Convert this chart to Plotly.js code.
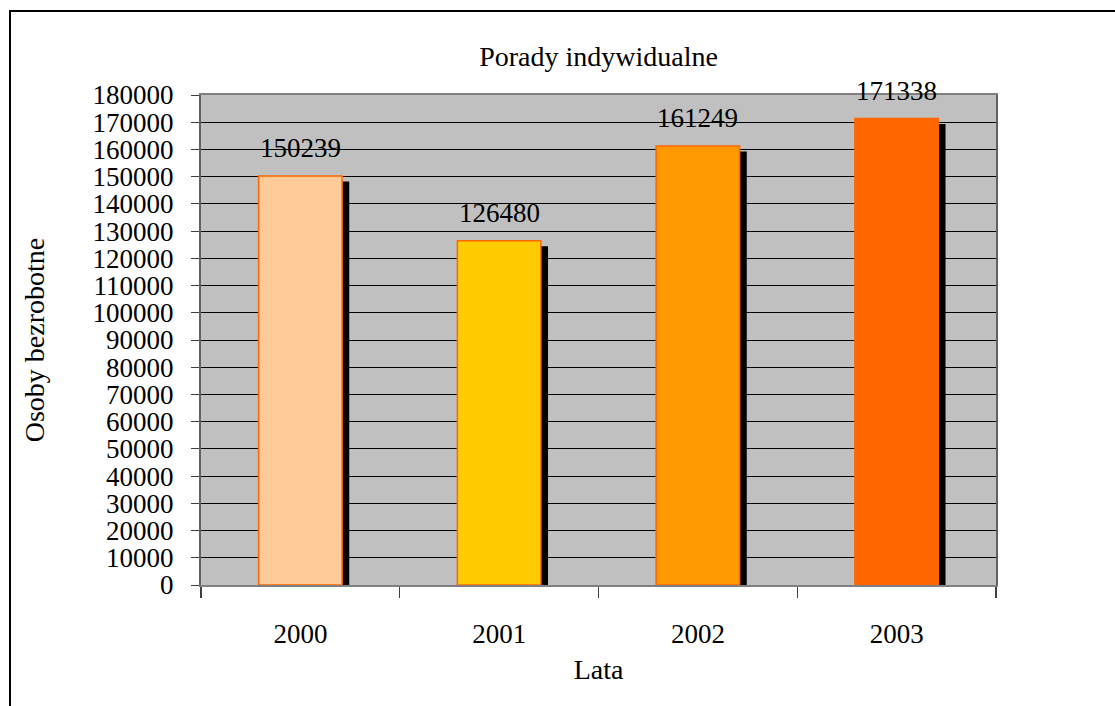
<!DOCTYPE html>
<html>
<head>
<meta charset="utf-8">
<script src="https://cdn.plot.ly/plotly-3.0.1.min.js"></script>
<style>
  html, body { margin: 0; padding: 0; background: #ffffff; overflow: hidden; }
  #frame { position: absolute; left: 9px; top: 10px; width: 1200px; height: 800px;
           border-left: 2px solid #000; border-top: 2px solid #000; box-sizing: border-box; }
  #chart { position: absolute; left: 0; top: 0; width: 1115px; height: 706px; }
</style>
</head>
<body>
<div id="frame"></div>
<div id="chart"></div>
<script>
const years = ['2000', '2001', '2002', '2003'];
const values = [150239, 126480, 161249, 171338];
const barColors = ['#FFCC99', '#FFCC00', '#FF9900', '#FF6600'];
const yTickVals = [0,10000,20000,30000,40000,50000,60000,70000,80000,90000,100000,110000,120000,130000,140000,150000,160000,170000,180000];

const FONT = '"Liberation Serif", "Times New Roman", serif';
const BAR_W = 0.42;
const SHADOW_SHIFT = 0.036;
const SHADOW_DROP = 2000;

const shadow = {
  type: 'bar', x: years, y: values.map(v => v - SHADOW_DROP),
  width: BAR_W, offset: -BAR_W / 2 + SHADOW_SHIFT,
  marker: { color: '#000000', line: { width: 0 } },
  hoverinfo: 'skip', showlegend: false
};
const bars = {
  type: 'bar', x: years, y: values,
  width: BAR_W, offset: -BAR_W / 2,
  marker: { color: barColors, line: { color: '#FF6600', width: 1.5 } },
  showlegend: false
};

const annotations = years.map((yr, i) => ({
  x: i, y: values[i], xref: 'x', yref: 'y',
  text: String(values[i]), showarrow: false,
  yanchor: 'bottom', yshift: 11,
  font: { family: FONT, size: 27, color: '#000' }
}));

const layout = {
  width: 1115, height: 706,
  margin: { l: 201, r: 119, t: 95, b: 121 },
  paper_bgcolor: 'rgba(0,0,0,0)',
  plot_bgcolor: '#C0C0C0',
  barmode: 'overlay',
  font: { family: FONT, size: 27, color: '#000' },
  title: { text: 'Porady indywidualne', font: { family: FONT, size: 28, color: '#000' },
           x: 0.5, xanchor: 'center', y: 0.92, yanchor: 'middle', xref: 'paper' },
  xaxis: {
    type: 'category', range: [-0.5, 3.5], tickson: 'boundaries', ticks: 'outside', ticklen: 11,
    tickcolor: '#404040', tickwidth: 1.2, tickangle: 0,
    showline: true, linecolor: '#808080', linewidth: 2, mirror: true,
    showgrid: false, ticklabelstandoff: 24,
    tickfont: { family: FONT, size: 27, color: '#000' },
    title: { text: 'Lata', font: { family: FONT, size: 28, color: '#000' }, standoff: 11 }
  },
  yaxis: {
    range: [0, 180000], tickvals: yTickVals, ticktext: yTickVals.map(String),
    ticks: 'outside', ticklen: 8, tickcolor: '#404040', tickwidth: 1,
    showline: true, linecolor: '#606060', linewidth: 2, mirror: true,
    showgrid: true, gridcolor: '#000000', gridwidth: 1,
    zeroline: false, ticklabelstandoff: 12,
    tickfont: { family: FONT, size: 27, color: '#000' },
    title: { text: 'Osoby bezrobotne', font: { family: FONT, size: 28, color: '#000' }, standoff: 40 }
  },
  annotations: annotations
};

Plotly.newPlot('chart', [shadow, bars], layout, { displayModeBar: false, staticPlot: true });
</script>
</body>
</html>
